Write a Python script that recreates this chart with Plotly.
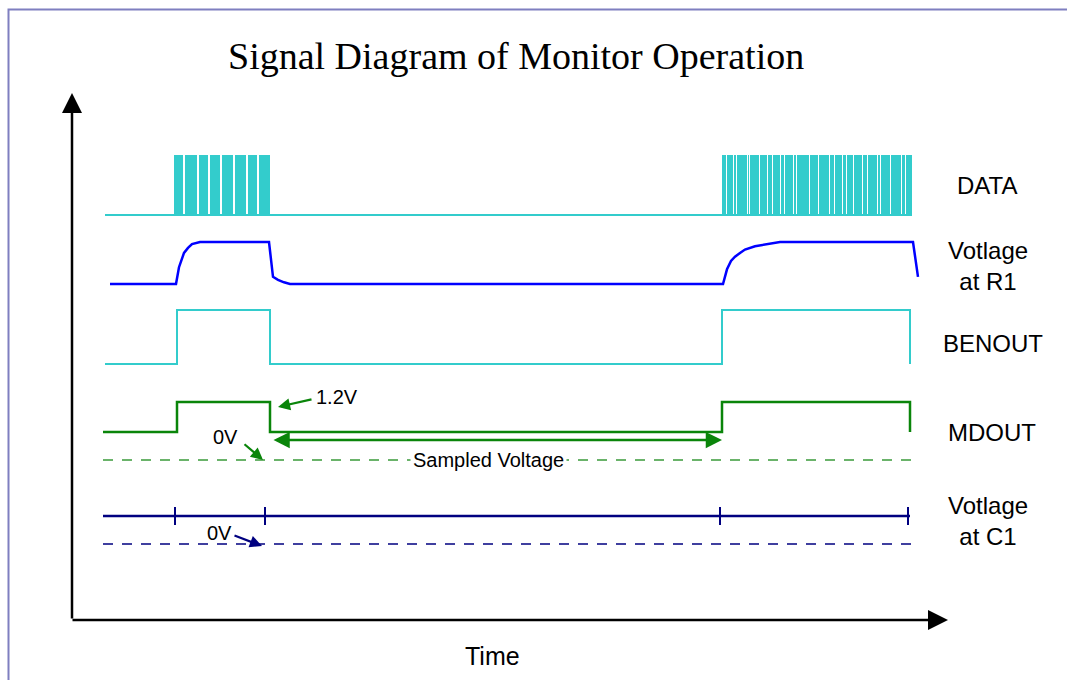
import plotly.graph_objects as go

# ---------------- data (time in diagram units, levels 0/1) ----------------
t_start = 105
t_end = 912
# DATA bursts: high segments [start, end]
data_burst1 = [[174, 183], [185, 197], [199, 208], [210, 220], [222, 233],
               [235, 246], [248, 257], [259, 270]]
data_burst2 = [[722, 726], [727, 733], [734, 736], [737, 747], [748, 749],
               [750, 759], [760, 767], [768, 772], [773, 780], [781, 784],
               [785, 793], [794, 796], [797, 809], [810, 818], [819, 829],
               [830, 834], [835, 842], [843, 846], [847, 853], [854, 862],
               [863, 867], [868, 877], [878, 880], [881, 890], [891, 901],
               [902, 905], [906, 912]]

# Voltage at R1 (time, level 0..1)
r1_t = [110, 176, 179, 184, 188, 192, 200, 269, 273, 278, 284, 290,
        723, 727, 731, 735, 740, 745, 755, 768, 780, 913, 918]
r1_v = [0.0, 0.0, 0.40, 0.74, 0.86, 0.95, 1.0, 1.0, 0.17, 0.10, 0.04, 0.0,
        0.0, 0.35, 0.55, 0.65, 0.74, 0.82, 0.90, 0.95, 1.0, 1.0, 0.17]

# BENOUT / MDOUT edges
ben_t = [105, 177, 177, 270, 270, 722, 722, 910, 910]
ben_v = [0, 0, 1, 1, 0, 0, 1, 1, 0]
md_t = [103, 177, 177, 270, 270, 722, 722, 910, 910]
md_v = [0, 0, 1, 1, 0, 0, 1, 1, 0]

# C1 line ticks
c1_ticks = [175, 265, 720, 908]
c1_span = [103, 910]

row_labels = ["DATA", "Votlage<br>at R1", "BENOUT", "MDOUT", "Votlage<br>at C1"]

# ---------------- layout geometry (pixel-like diagram space) ----------------
DATA_LOW, DATA_HIGH = 215, 155
R1_LOW, R1_HIGH = 284, 242
BEN_LOW, BEN_HIGH = 364, 310
MD_LOW, MD_HIGH = 432, 402
SAMPLED_Y = 460
C1_Y, C1_DASH_Y = 516, 544

CYAN = "#33cccc"
BLUE = "#0000ff"
GREEN = "#0a850a"
LGREEN = "#3a9a3a"
NAVY = "#000080"
FONT = "Liberation Sans"

fig = go.Figure()

# DATA baseline
fig.add_trace(go.Scatter(x=[t_start, t_end], y=[DATA_LOW, DATA_LOW], mode="lines",
                         line=dict(color=CYAN, width=2), hoverinfo="skip"))
# DATA pulses as bars
segs = data_burst1 + data_burst2
fig.add_trace(go.Bar(x=[(a + b) / 2 for a, b in segs], width=[b - a for a, b in segs],
                     base=[DATA_LOW] * len(segs), y=[DATA_HIGH - DATA_LOW] * len(segs),
                     marker=dict(color=CYAN, line=dict(width=0)), hoverinfo="skip"))

# R1
fig.add_trace(go.Scatter(x=r1_t, y=[R1_LOW + v * (R1_HIGH - R1_LOW) for v in r1_v],
                         mode="lines", line=dict(color=BLUE, width=2.5), hoverinfo="skip"))
# BENOUT
fig.add_trace(go.Scatter(x=ben_t, y=[BEN_LOW + v * (BEN_HIGH - BEN_LOW) for v in ben_v],
                         mode="lines", line=dict(color=CYAN, width=2), hoverinfo="skip"))
# MDOUT
fig.add_trace(go.Scatter(x=md_t, y=[MD_LOW + v * (MD_HIGH - MD_LOW) for v in md_v],
                         mode="lines", line=dict(color=GREEN, width=2.5), hoverinfo="skip"))
# Sampled voltage dashed
fig.add_trace(go.Scatter(x=[103, 912], y=[SAMPLED_Y, SAMPLED_Y], mode="lines",
                         line=dict(color=LGREEN, width=1.5, dash="10px,9px"), hoverinfo="skip"))
# C1 line
fig.add_trace(go.Scatter(x=c1_span, y=[C1_Y, C1_Y], mode="lines",
                         line=dict(color=NAVY, width=2.5), hoverinfo="skip"))
fig.add_trace(go.Scatter(x=c1_ticks, y=[C1_Y] * len(c1_ticks), mode="markers",
                         marker=dict(symbol="line-ns", size=13,
                                     line=dict(color=NAVY, width=2)), hoverinfo="skip"))
fig.add_trace(go.Scatter(x=[103, 912], y=[C1_DASH_Y, C1_DASH_Y], mode="lines",
                         line=dict(color=NAVY, width=1.5, dash="10px,9px"), hoverinfo="skip"))

ann = []
# axes arrows
ann.append(dict(x=72, y=93, ax=72, ay=620, xref="x", yref="y", axref="x", ayref="y",
                showarrow=True, arrowhead=2, arrowsize=1.6, arrowwidth=2.5,
                arrowcolor="black", text=""))
ann.append(dict(x=948, y=620, ax=71, ay=620, xref="x", yref="y", axref="x", ayref="y",
                showarrow=True, arrowhead=2, arrowsize=1.6, arrowwidth=2.5,
                arrowcolor="black", text=""))
# double arrow sampled interval
ann.append(dict(x=722, y=440, ax=272, ay=440, xref="x", yref="y", axref="x", ayref="y",
                showarrow=True, arrowhead=2, startarrowhead=2, arrowside="end+start",
                arrowsize=1.3, startarrowsize=1.3, arrowwidth=2.5, arrowcolor=GREEN, text=""))
# 1.2V
ann.append(dict(x=278, y=407, ax=313, ay=399, xref="x", yref="y", axref="x", ayref="y",
                showarrow=True, arrowhead=2, arrowsize=1.1, arrowwidth=2.2,
                arrowcolor=GREEN, text=""))
ann.append(dict(x=337, y=397, xref="x", yref="y", text="1.2V", showarrow=False,
                font=dict(family=FONT, size=20, color="black")))
# 0V for MDOUT
ann.append(dict(x=263, y=460, ax=243, ay=443, xref="x", yref="y", axref="x", ayref="y",
                showarrow=True, arrowhead=2, arrowsize=1.1, arrowwidth=2.2,
                arrowcolor=GREEN, text=""))
ann.append(dict(x=225, y=437, xref="x", yref="y", text="0V", showarrow=False,
                font=dict(family=FONT, size=20, color="black")))
# 0V for C1
ann.append(dict(x=262, y=546, ax=233, ay=535, xref="x", yref="y", axref="x", ayref="y",
                showarrow=True, arrowhead=2, arrowsize=1.1, arrowwidth=2.2,
                arrowcolor=NAVY, text=""))
ann.append(dict(x=219, y=533, xref="x", yref="y", text="0V", showarrow=False,
                font=dict(family=FONT, size=20, color="black")))
# Sampled Voltage label
ann.append(dict(x=488, y=460, xref="x", yref="y", text="Sampled Voltage", showarrow=False,
                bgcolor="white", borderpad=2,
                font=dict(family=FONT, size=20, color="black")))
# Row labels
label_pos = [(987, 185), (988, 266), (993, 343), (992, 432), (988, 521)]
for txt, (lx, ly) in zip(row_labels, label_pos):
    ann.append(dict(x=lx, y=ly, xref="x", yref="y", text=txt, showarrow=False,
                    font=dict(family=FONT, size=24, color="black")))
# Time
ann.append(dict(x=492, y=656, xref="x", yref="y", text="Time", showarrow=False,
                font=dict(family=FONT, size=25, color="black")))
# Title
ann.append(dict(x=516, y=56, xref="x", yref="y", text="Signal Diagram of Monitor Operation",
                showarrow=False, font=dict(family="Liberation Serif", size=38, color="black")))

fig.update_layout(
    width=1067, height=680, margin=dict(l=0, r=0, t=0, b=0),
    paper_bgcolor="white", plot_bgcolor="white", showlegend=False,
    xaxis=dict(range=[0, 1067], visible=False, fixedrange=True),
    yaxis=dict(range=[680, 0], visible=False, fixedrange=True),
    annotations=ann, bargap=0,
    shapes=[dict(type="rect", xref="paper", yref="paper", x0=8.5 / 1067, x1=1.02,
                 y0=-0.02, y1=1 - 9.5 / 680, line=dict(color="#7f7fc0", width=2),
                 layer="below")],
)

fig.write_html("out.html", config={"displayModeBar": False},
               post_script="document.body.style.margin='0';document.body.style.overflow='hidden';")
